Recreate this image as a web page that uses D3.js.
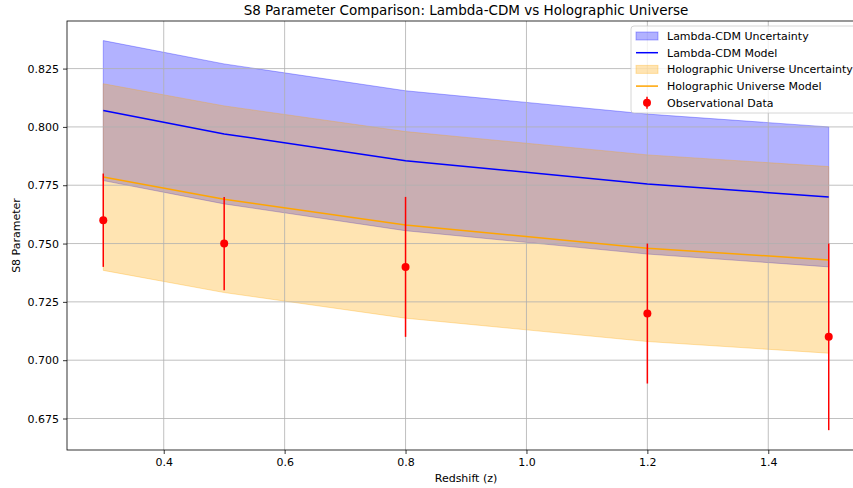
<!DOCTYPE html>
<html>
<head>
<meta charset="utf-8">
<script src="https://cdn.jsdelivr.net/npm/d3@7"></script>
<style>
  body { margin: 0; background: #fff; }
  text { font-family: "DejaVu Sans", sans-serif; fill: #000; }
</style>
</head>
<body>
<div id="chart"></div>
<script>
// values
const redshift = [0.3, 0.5, 0.8, 1.2, 1.5]
const lcdmModel = [0.807, 0.797, 0.7855, 0.7755, 0.770]
const lcdmErr = [0.03, 0.03, 0.03, 0.03, 0.03]
const holoModel = [0.7785, 0.769, 0.758, 0.748, 0.743]
const holoErr = [0.04, 0.04, 0.04, 0.04, 0.04]
const obsValue = [0.76, 0.75, 0.74, 0.72, 0.71]
const obsErr = [0.02, 0.02, 0.03, 0.03, 0.04]
const xTicks = [0.4, 0.6, 0.8, 1.0, 1.2, 1.4]
const yTicks = [0.675, 0.700, 0.725, 0.750, 0.775, 0.800, 0.825]

const W = 853, H = 488
const axLeft = 67, axTop = 21, axRight = 865, axBottom = 450

const svg = d3.select('#chart').append('svg')
	.attr('width', W)
	.attr('height', H)

svg.append('rect').attr('width', W).attr('height', H).attr('fill', '#fff')

const x = d3.scaleLinear().domain([0.24, 1.56]).range([axLeft, axRight])
const y = d3.scaleLinear().domain([0.6615, 0.8454]).range([axBottom, axTop])

const rows = redshift.map(function(z, i){
	return {z: z, l: lcdmModel[i], le: lcdmErr[i], h: holoModel[i], he: holoErr[i], o: obsValue[i], oe: obsErr[i]}
})

const plot = svg.append('g')

// bands
const band = (mid, err) => d3.area()
	.x(d => x(d.z))
	.y0(d => y(d[mid] - d[err]))
	.y1(d => y(d[mid] + d[err]))

plot.append('path')
	.datum(rows)
	.attr('d', band('l', 'le'))
	.attr('fill', 'blue')
	.attr('fill-opacity', 0.3)
	.attr('stroke', 'blue')
	.attr('stroke-opacity', 0.3)

plot.append('path')
	.datum(rows)
	.attr('d', band('h', 'he'))
	.attr('fill', 'orange')
	.attr('fill-opacity', 0.3)
	.attr('stroke', 'orange')
	.attr('stroke-opacity', 0.3)

// grid
const grid = svg.append('g')
grid.selectAll('.gx').data(xTicks).enter().append('line')
	.attr('x1', d => x(d)).attr('x2', d => x(d))
	.attr('y1', axTop).attr('y2', axBottom)
	.attr('stroke', '#b0b0b0').attr('stroke-width', 0.8)
grid.selectAll('.gy').data(yTicks).enter().append('line')
	.attr('x1', axLeft).attr('x2', axRight)
	.attr('y1', d => y(d)).attr('y2', d => y(d))
	.attr('stroke', '#b0b0b0').attr('stroke-width', 0.8)

// model lines
const line = key => d3.line().x(d => x(d.z)).y(d => y(d[key]))

svg.append('path').datum(rows).attr('d', line('l'))
	.attr('fill', 'none').attr('stroke', 'blue').attr('stroke-width', 1.5)
svg.append('path').datum(rows).attr('d', line('h'))
	.attr('fill', 'none').attr('stroke', 'orange').attr('stroke-width', 1.5)

// observations
svg.selectAll('.err').data(rows).enter().append('line')
	.attr('x1', d => x(d.z)).attr('x2', d => x(d.z))
	.attr('y1', d => y(d.o - d.oe)).attr('y2', d => y(d.o + d.oe))
	.attr('stroke', 'red').attr('stroke-width', 1.5)
svg.selectAll('.pt').data(rows).enter().append('circle')
	.attr('cx', d => x(d.z)).attr('cy', d => y(d.o))
	.attr('r', 4)
	.attr('fill', 'red')

// axes
const xAxis = svg.append('g')
	.attr('transform', 'translate(0,' + axBottom + ')')
	.call(d3.axisBottom(x).tickValues(xTicks).tickFormat(d3.format('.1f')).tickSize(4).tickPadding(4))
const yAxis = svg.append('g')
	.attr('transform', 'translate(' + axLeft + ',0)')
	.call(d3.axisLeft(y).tickValues(yTicks).tickFormat(d3.format('.3f')).tickSize(4).tickPadding(4))

svg.selectAll('.domain').remove()
svg.selectAll('.tick text').style('font-size', '11px').style('font-family', '"DejaVu Sans", sans-serif')
svg.selectAll('.tick line').attr('stroke', '#000').attr('stroke-width', 0.8)

// spines
svg.append('rect')
	.attr('x', axLeft).attr('y', axTop)
	.attr('width', axRight - axLeft).attr('height', axBottom - axTop)
	.attr('fill', 'none').attr('stroke', '#000').attr('stroke-width', 0.8)

// titles
svg.append('text')
	.attr('x', (axLeft + axRight) / 2).attr('y', 15)
	.attr('text-anchor', 'middle')
	.style('font-size', '13.5px')
	.text('S8 Parameter Comparison: Lambda-CDM vs Holographic Universe')

svg.append('text')
	.attr('x', (axLeft + axRight) / 2).attr('y', 482)
	.attr('text-anchor', 'middle')
	.style('font-size', '11px')
	.text('Redshift (z)')

svg.append('text')
	.attr('transform', 'translate(20,' + (axTop + axBottom) / 2 + ') rotate(-90)')
	.attr('text-anchor', 'middle')
	.style('font-size', '11px')
	.text('S8 Parameter')

// legend
const legendItems = [
	{label: 'Lambda-CDM Uncertainty', kind: 'patch', color: 'blue'},
	{label: 'Lambda-CDM Model', kind: 'line', color: 'blue'},
	{label: 'Holographic Universe Uncertainty', kind: 'patch', color: 'orange'},
	{label: 'Holographic Universe Model', kind: 'line', color: 'orange'},
	{label: 'Observational Data', kind: 'point', color: 'red'}
]

const lg = svg.append('g').attr('transform', 'translate(631,26)')
lg.append('rect')
	.attr('width', 240).attr('height', 87)
	.attr('rx', 3)
	.attr('fill', '#fff').attr('fill-opacity', 0.8)
	.attr('stroke', '#ccc').attr('stroke-width', 0.8)

const entries = lg.selectAll('.entry').data(legendItems).enter().append('g')
	.attr('transform', (d, i) => 'translate(0,' + (10 + i * 16.7) + ')')

entries.filter(d => d.kind == 'patch').append('rect')
	.attr('x', 5).attr('y', -4).attr('width', 22).attr('height', 8)
	.attr('fill', d => d.color).attr('fill-opacity', 0.3)
	.attr('stroke', d => d.color).attr('stroke-opacity', 0.3)
entries.filter(d => d.kind == 'line').append('line')
	.attr('x1', 5).attr('x2', 27).attr('y1', 0).attr('y2', 0)
	.attr('stroke', d => d.color).attr('stroke-width', 1.5)
entries.filter(d => d.kind == 'point').append('line')
	.attr('x1', 16).attr('x2', 16).attr('y1', -6).attr('y2', 6)
	.attr('stroke', d => d.color).attr('stroke-width', 1.5)
entries.filter(d => d.kind == 'point').append('circle')
	.attr('cx', 16).attr('cy', 0).attr('r', 4)
	.attr('fill', d => d.color)

entries.append('text')
	.attr('x', 36).attr('y', 4)
	.style('font-size', '11px')
	.text(d => d.label)
</script>
</body>
</html>
